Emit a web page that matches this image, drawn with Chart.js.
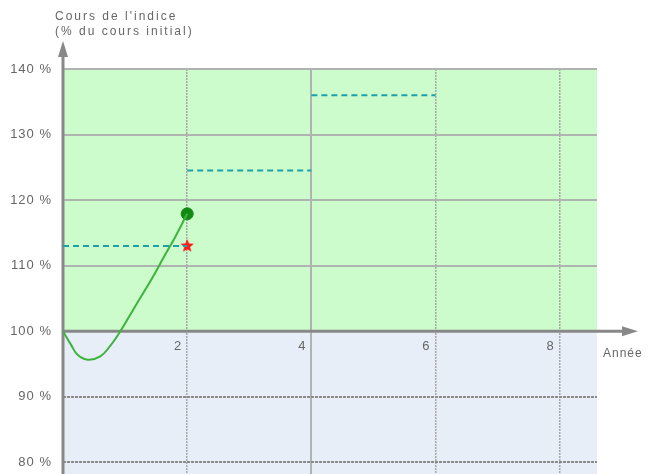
<!DOCTYPE html>
<html>
<head>
<meta charset="utf-8">
<script src="https://cdn.jsdelivr.net/npm/chart.js@4.4.1/dist/chart.umd.min.js"></script>
<style>
  html, body { margin: 0; padding: 0; background: #fff; overflow: hidden; }
  canvas { display: block; }
</style>
</head>
<body>
<canvas id="indexChart" width="649" height="474"></canvas>
<script>
// index path over the first two years (% of initial level)
const pathYears = [0, 0.13, 0.235, 0.4, 0.6, 0.757, 0.925, 1.176, 1.437, 1.646, 1.803, 2];
const pathLevels = [100, 97.9, 96.4, 95.65, 96.15, 97.7, 100, 104, 108.1, 111.7, 114.3, 117.9];

// recall barriers per observation period
const barrierFrom = [0, 2, 4];
const barrierTo = [2, 4, 6];
const barrierLevels = [113, 124.5, 136];

// last observed level and the barrier it is compared with
const lastYear = [2];
const lastLevel = [117.9];
const barrierHitLevel = [113];

const yTicks = [80, 90, 100, 110, 120, 130, 140];
const xTicks = [2, 4, 6, 8];

const axisTitle = ["Cours de l'indice", "(% du cours initial)"];
const xTitle = "Année";

const FONT = "Liberation Sans";
const TEXT_COLOR = "#666";

// small filled star used as a point style
function makeStar(r, color) {
  const c = document.createElement("canvas");
  c.width = c.height = r * 2 + 2;
  const g = c.getContext("2d");
  g.fillStyle = color;
  g.beginPath();
  for (let i = 0; i < 10; i++) {
    const rad = i % 2 === 0 ? r : r * 0.45;
    const a = -Math.PI / 2 + (i * Math.PI) / 5;
    const px = r + 1 + rad * Math.cos(a);
    const py = r + 1 + rad * Math.sin(a);
    if (i === 0) g.moveTo(px, py);
    else g.lineTo(px, py);
  }
  g.closePath();
  g.fill();
  return c;
}

const barrierData = [];
barrierLevels.forEach((lvl, i) => {
  barrierData.push({ x: barrierFrom[i], y: lvl });
  barrierData.push({ x: barrierTo[i], y: lvl });
  if (i < barrierLevels.length - 1) barrierData.push({ x: barrierTo[i], y: null });
});

function noPadding(s) {
  s.paddingTop = 0;
  s.paddingBottom = 0;
  s.paddingLeft = 0;
  s.paddingRight = 0;
}

// backgrounds, arrowed axes and free text
const decorPlugin = {
  id: "decor",
  beforeDraw(chart) {
    const { ctx, chartArea: a, scales } = chart;
    const y100 = scales.y.getPixelForValue(100);
    ctx.save();
    ctx.fillStyle = "#ccfccc";
    ctx.fillRect(a.left, a.top, a.right - a.left, y100 - a.top);
    ctx.fillStyle = "#e8eef8";
    ctx.fillRect(a.left, y100, a.right - a.left, a.bottom - y100);
    ctx.restore();
    ctx.letterSpacing = "1px";
  },
  beforeDatasetsDraw(chart) {
    const { ctx, chartArea: a, scales } = chart;
    const x0 = scales.x.getPixelForValue(0);
    const y100 = scales.y.getPixelForValue(100);
    ctx.save();
    ctx.strokeStyle = "#888";
    ctx.fillStyle = "#888";
    ctx.lineWidth = 3;
    // y axis
    ctx.beginPath();
    ctx.moveTo(x0, a.bottom);
    ctx.lineTo(x0, 55);
    ctx.stroke();
    ctx.beginPath();
    ctx.moveTo(x0, 41);
    ctx.lineTo(x0 - 5, 57);
    ctx.lineTo(x0 + 5, 57);
    ctx.closePath();
    ctx.fill();
    // x axis
    ctx.beginPath();
    ctx.moveTo(x0, y100);
    ctx.lineTo(626, y100);
    ctx.stroke();
    ctx.beginPath();
    ctx.moveTo(638, y100);
    ctx.lineTo(622, y100 - 5);
    ctx.lineTo(622, y100 + 5);
    ctx.closePath();
    ctx.fill();

    ctx.letterSpacing = "1px";
    ctx.fillStyle = TEXT_COLOR;
    ctx.font = "13px '" + FONT + "'";
    ctx.textBaseline = "alphabetic";
    ctx.textAlign = "right";
    scales.x.ticks.forEach((t) => {
      if (t.value <= 0) return;
      ctx.fillText(String(t.value), scales.x.getPixelForValue(t.value) - 5, y100 + 19);
    });
    ctx.textAlign = "left";
    ctx.font = "12px '" + FONT + "'";
    ctx.fillText(xTitle, 603, y100 + 26);
    ctx.letterSpacing = "2px";
    ctx.fillText(axisTitle[0], 55, 20);
    ctx.fillText(axisTitle[1], 55, 35);
    ctx.restore();
  }
};

new Chart(document.getElementById("indexChart"), {
  type: "line",
  data: {
    datasets: [
      {
        label: "Barrières",
        data: barrierData,
        borderColor: "#1ea0a8",
        borderWidth: 2,
        borderDash: [6, 4],
        pointRadius: 0,
        spanGaps: false
      },
      {
        label: "Indice",
        data: pathYears.map((x, i) => ({ x, y: pathLevels[i] })),
        borderColor: "#3cb43c",
        borderWidth: 2,
        tension: 0.4,
        pointRadius: 0
      },
      {
        label: "Dernier cours",
        data: lastYear.map((x, i) => ({ x, y: lastLevel[i] })),
        showLine: false,
        pointRadius: 6,
        pointBackgroundColor: "#138a13",
        pointBorderColor: "#138a13"
      },
      {
        label: "Barrière",
        data: lastYear.map((x, i) => ({ x, y: barrierHitLevel[i] })),
        showLine: false,
        pointStyle: makeStar(7, "#ff1a1a"),
        pointRadius: 7
      }
    ]
  },
  options: {
    responsive: false,
    animation: false,
    layout: { autoPadding: false, padding: { top: 69, right: 52, bottom: 0, left: 0 } },
    plugins: { legend: { display: false }, tooltip: { enabled: false } },
    scales: {
      x: {
        type: "linear",
        min: 0,
        max: 8.6,
        afterBuildTicks: (s) => { s.ticks = xTicks.map((v) => ({ value: v })); },
        afterFit: (s) => { s.height = 0; noPadding(s); },
        ticks: { display: false },
        border: {
          display: false,
          dash: (c) => (c.tick && c.tick.value === 4 ? [] : [2, 1])
        },
        grid: {
          drawTicks: false,
          color: (c) => (c.tick && c.tick.value === 4 ? "#b0b4b0" : "#a6a6a6"),
          lineWidth: (c) => (c.tick && c.tick.value === 4 ? 2 : 1.5)
        }
      },
      y: {
        type: "linear",
        min: 78.2,
        max: 140,
        afterBuildTicks: (s) => { s.ticks = yTicks.map((v) => ({ value: v })); },
        afterFit: (s) => { s.width = 63; noPadding(s); },
        ticks: {
          padding: 11,
          color: TEXT_COLOR,
          font: { family: FONT, size: 13 },
          callback: (v) => v + " %"
        },
        border: {
          display: false,
          dash: (c) => (c.tick && c.tick.value < 100 ? [3, 1] : [])
        },
        grid: {
          drawTicks: false,
          color: (c) => {
            if (!c.tick) return "transparent";
            if (c.tick.value === 100) return "transparent";
            return c.tick.value < 100 ? "#8a8a8a" : "#b0b4b0";
          },
          lineWidth: 2
        }
      }
    }
  },
  plugins: [decorPlugin]
});
</script>
</body>
</html>
